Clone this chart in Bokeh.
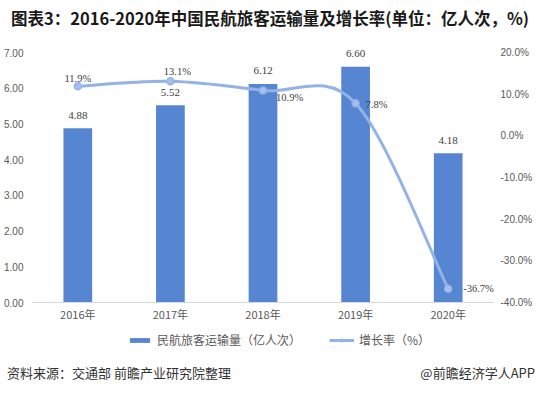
from bokeh.plotting import figure
from bokeh.layouts import column
from bokeh.models import (Range1d, LinearAxis, FixedTicker, PrintfTickFormatter, Div,
                          LabelSet, ColumnDataSource, Legend, LegendItem)
from bokeh.embed import file_html
from bokeh.resources import INLINE

categories = ["2016年", "2017年", "2018年", "2019年", "2020年"]
passengers = [4.88, 5.52, 6.12, 6.60, 4.18]
growth = [11.9, 13.1, 10.9, 7.8, -36.7]
left_ticks = [0, 1, 2, 3, 4, 5, 6, 7]
right_ticks = [-40, -30, -20, -10, 0, 10, 20]
title_text = "图表3：2016-2020年中国民航旅客运输量及增长率(单位：亿人次，%)"
source_text = "资料来源：交通部 前瞻产业研究院整理"
brand_text = "@前瞻经济学人APP"
bar_name = "民航旅客运输量（亿人次）"
line_name = "增长率（%）"

BAR = "#5686D2"
LINE = "#93B3E6"
TXT = "#595959"
NUM = "Liberation Sans"
CJK = "Noto Sans CJK SC"
W = 529

xs = [i + 1 for i in range(len(categories))]

# ---------- header ----------
head = Div(width=W, height=28,
           text=('<div style="font-family:\'Noto Sans CJK SC\';font-weight:bold;'
                 'font-size:16.5px;color:#1a1a1a;line-height:20px;padding-top:3px;'
                 'position:relative;left:6px;white-space:nowrap;">' + title_text + '</div>'))

# ---------- main chart ----------
ppu_l = 250 / 7
ppu_r = 250 / 60
p = figure(frame_width=463, frame_height=314, output_backend="svg", toolbar_location=None,
           x_range=Range1d(0.5, len(categories) + 0.5),
           y_range=Range1d(-50 / ppu_l, 7 + 14 / ppu_l),
           min_border_left=31, min_border_right=35, min_border_top=0, min_border_bottom=14)
p.outline_line_color = None
p.xgrid.visible = False
p.ygrid.visible = False
p.extra_y_ranges = {"pct": Range1d(-40 - 50 / ppu_r, 20 + 14 / ppu_r)}

p.xaxis.fixed_location = 0
p.xaxis.ticker = FixedTicker(ticks=xs)
p.xaxis.major_label_overrides = {x: c for x, c in zip(xs, categories)}
p.xaxis.axis_line_color = "#D9D9D9"
p.xaxis.major_tick_line_color = None
p.xaxis.major_tick_out = 0
p.xaxis.minor_tick_line_color = None
p.xaxis.major_label_text_font = CJK
p.xaxis.major_label_text_font_size = "11px"
p.xaxis.major_label_text_color = TXT
p.xaxis.major_label_standoff = 3

p.yaxis.ticker = FixedTicker(ticks=left_ticks)
p.yaxis.formatter = PrintfTickFormatter(format="%.2f")
p.yaxis.axis_line_color = None
p.yaxis.major_tick_line_color = None
p.yaxis.major_tick_out = 0
p.yaxis.minor_tick_line_color = None
p.yaxis.major_label_text_font = NUM
p.yaxis.major_label_text_font_size = "10px"
p.yaxis.major_label_text_color = TXT
p.yaxis.major_label_standoff = 8

ra = LinearAxis(y_range_name="pct", ticker=FixedTicker(ticks=right_ticks),
                formatter=PrintfTickFormatter(format="%.1f%%"))
ra.axis_line_color = None
ra.major_tick_line_color = None
ra.major_tick_out = 0
ra.minor_tick_line_color = None
ra.major_label_text_font = NUM
ra.major_label_text_font_size = "10px"
ra.major_label_text_color = TXT
ra.major_label_standoff = 6
p.add_layout(ra, "right")

bar_src = ColumnDataSource(dict(x=xs, top=passengers,
                                lab=["%.2f" % v for v in passengers]))
bars = p.vbar(x="x", top="top", bottom=0, width=0.31, source=bar_src,
              fill_color=BAR, line_color=None)
p.add_layout(LabelSet(x="x", y="top", text="lab", source=bar_src, text_align="center",
                      text_baseline="middle", y_offset=13, text_font=NUM,
                      text_font_size="11px", text_color="#404040"))

# smooth line (Catmull-Rom -> cubic bezier)
n = len(xs)
x0s, y0s, x1s, y1s, cx0, cy0, cx1, cy1 = [], [], [], [], [], [], [], []
for i in range(n - 1):
    pm = i - 1 if i > 0 else i
    pn = i + 2 if i + 2 < n else i + 1
    x0s.append(xs[i]); y0s.append(growth[i])
    x1s.append(xs[i + 1]); y1s.append(growth[i + 1])
    cx0.append(xs[i] + (xs[i + 1] - xs[pm]) / 6)
    cy0.append(growth[i] + (growth[i + 1] - growth[pm]) / 6)
    cx1.append(xs[i + 1] - (xs[pn] - xs[i]) / 6)
    cy1.append(growth[i + 1] - (growth[pn] - growth[i]) / 6)
bez = p.bezier(x0=x0s, y0=y0s, x1=x1s, y1=y1s, cx0=cx0, cy0=cy0, cx1=cx1, cy1=cy1,
               line_color=LINE, line_width=3, y_range_name="pct")
pts = p.scatter(xs, growth, size=7, fill_color="#A7C0EA", line_color=LINE,
                line_width=1.5, y_range_name="pct")

g_src = ColumnDataSource(dict(x=xs, y=growth, lab=["%.1f%%" % v for v in growth],
                              dx=[0, 7, 13, 10, 15], dy=[8, 10, -7, -1, 0],
                              al=["center", "center", "left", "left", "left"]))
p.add_layout(LabelSet(x="x", y="y", text="lab", source=g_src, y_range_name="pct",
                      x_offset="dx", y_offset="dy", text_align="al",
                      text_baseline="middle", text_font=NUM,
                      text_font_size="10.5px", text_color="#404040"))

legend = Legend(items=[LegendItem(label=bar_name, renderers=[bars]),
                       LegendItem(label=line_name, renderers=[bez, pts])],
                orientation="horizontal", location=(96, 4), border_line_color=None,
                background_fill_alpha=0, label_text_font=CJK, label_text_font_size="12px",
                label_text_color=TXT, glyph_width=25, glyph_height=6, spacing=28,
                margin=0, padding=2, label_height=14, label_standoff=5)
p.add_layout(legend)

# ---------- footer ----------
foot = Div(width=W, height=14,
           text=('<div style="display:flex;justify-content:space-between;width:528px;'
                 'position:relative;top:-5px;left:2px;font-family:\'Noto Sans CJK SC\';'
                 'font-size:13px;color:#333333;line-height:14px;white-space:nowrap;">'
                 '<span>' + source_text + '</span><span>' + brand_text + '</span></div>'))

layout = column(head, p, foot, spacing=0)
open("out.html", "w").write(file_html(layout, INLINE))
